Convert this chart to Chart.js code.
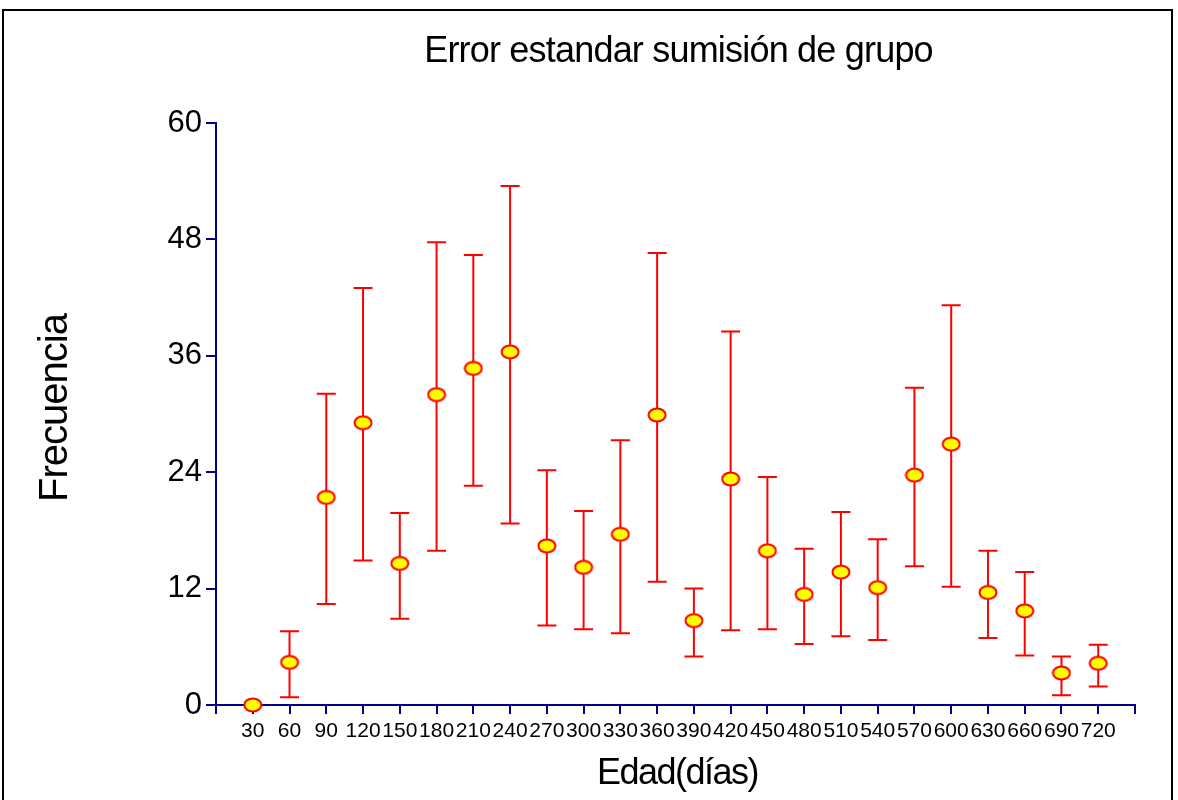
<!DOCTYPE html>
<html>
<head>
<meta charset="utf-8">
<script src="https://cdn.jsdelivr.net/npm/chart.js@4/dist/chart.umd.min.js"></script>
<style>
  html, body { margin: 0; padding: 0; background: #fff; }
  #wrap { width: 1178px; height: 800px; }
</style>
</head>
<body>
<div id="wrap"><canvas id="chart" width="1178" height="800"></canvas></div>
<script>
const categories = [30, 60, 90, 120, 150, 180, 210, 240, 270, 300, 330, 360,
                    390, 420, 450, 480, 510, 540, 570, 600, 630, 660, 690, 720];
const means = [0, 4.4, 21.4, 29.1, 14.6, 32.0, 34.7, 36.4, 16.4, 14.2, 17.6, 29.9,
               8.7, 23.3, 15.9, 11.4, 13.7, 12.1, 23.7, 26.9, 11.6, 9.7, 3.3, 4.3];
const upper = [0, 7.6, 32.1, 43.0, 19.8, 47.7, 46.4, 53.5, 24.2, 20.0, 27.3, 46.6,
               12.0, 38.5, 23.5, 16.1, 19.9, 17.1, 32.7, 41.2, 15.9, 13.7, 5.0, 6.2];
const lower = [0, 0.8, 10.4, 14.9, 8.9, 15.9, 22.6, 18.7, 8.2, 7.8, 7.4, 12.7,
               5.0, 7.7, 7.8, 6.3, 7.1, 6.7, 14.3, 12.2, 6.9, 5.1, 1.0, 1.9];
const yTicks = [0, 12, 24, 36, 48, 60];

const chartTitle = 'Error estandar sumisión de grupo';
const xTitle = 'Edad(días)';
const yTitle = 'Frecuencia';

const FONT = "'Liberation Sans', Arial, sans-serif";
const AXIS = '#00008b';
const RED = '#ff0000';

// yellow ellipse with red rim, used as the point marker
function ellipseMarker() {
  const c = document.createElement('canvas');
  c.width = 20;
  c.height = 16;
  const g = c.getContext('2d');
  g.beginPath();
  g.ellipse(10, 8, 8.5, 6.5, 0, 0, Math.PI * 2);
  g.fillStyle = '#ffff00';
  g.fill();
  g.lineWidth = 2;
  g.strokeStyle = RED;
  g.stroke();
  return c;
}

const errorBars = {
  id: 'errorBars',
  beforeDatasetsDraw(chart) {
    const { ctx, scales: { x, y } } = chart;
    ctx.save();
    ctx.strokeStyle = RED;
    ctx.lineWidth = 2;
    categories.forEach((_, i) => {
      if (upper[i] === lower[i]) return;
      const px = x.getPixelForValue(i + 1);
      const top = y.getPixelForValue(upper[i]);
      const bot = y.getPixelForValue(lower[i]);
      ctx.beginPath();
      ctx.moveTo(px, top);
      ctx.lineTo(px, bot);
      ctx.moveTo(px - 9.5, top);
      ctx.lineTo(px + 9.5, top);
      ctx.moveTo(px - 9.5, bot);
      ctx.lineTo(px + 9.5, bot);
      ctx.stroke();
    });
    ctx.restore();
  }
};

// frame, title and axis captions (tight letter spacing like the original plot)
const captions = {
  id: 'captions',
  afterDraw(chart) {
    const { ctx, chartArea } = chart;
    ctx.save();
    ctx.strokeStyle = '#000';
    ctx.lineWidth = 2;
    ctx.strokeRect(3, 10, 1169, 800);

    ctx.fillStyle = '#000';
    ctx.textAlign = 'center';
    ctx.textBaseline = 'alphabetic';
    const cx = (chartArea.left + chartArea.right) / 2;

    ctx.font = `36px ${FONT}`;
    ctx.letterSpacing = '-0.8px';
    ctx.fillText(chartTitle, cx + 3, 62);

    ctx.font = `36px ${FONT}`;
    ctx.letterSpacing = '-1.5px';
    ctx.fillText(xTitle, cx + 2, 784);

    ctx.translate(67, (chartArea.top + chartArea.bottom) / 2 - 6);
    ctx.rotate(-Math.PI / 2);
    ctx.font = `40px ${FONT}`;
    ctx.letterSpacing = '-1px';
    ctx.fillText(yTitle, 0, 0);
    ctx.restore();
  }
};

new Chart(document.getElementById('chart'), {
  type: 'scatter',
  data: {
    datasets: [{
      data: means.map((v, i) => ({ x: i + 1, y: v })),
      pointStyle: ellipseMarker(),
      pointRadius: 8,
      clip: false
    }]
  },
  options: {
    responsive: false,
    animation: false,
    layout: { padding: { top: 123, right: 43, bottom: 0, left: 0 } },
    plugins: {
      legend: { display: false },
      tooltip: { enabled: false },
      title: { display: false }
    },
    scales: {
      x: {
        type: 'linear',
        min: 0,
        max: categories.length + 1,
        afterBuildTicks: (s) => {
          s.ticks = Array.from({ length: categories.length + 2 }, (_, v) => ({ value: v }));
        },
        afterFit: (s) => { s.height = 95; },
        border: { color: AXIS, width: 2 },
        grid: { drawOnChartArea: false, tickColor: AXIS, tickLength: 9, lineWidth: 2 },
        ticks: {
          autoSkip: false,
          maxRotation: 0,
          padding: 5,
          color: '#000',
          font: { family: FONT, size: 21 },
          callback: (v) => categories[v - 1] ?? ''
        }
      },
      y: {
        min: 0,
        max: 60,
        afterBuildTicks: (s) => { s.ticks = yTicks.map((v) => ({ value: v })); },
        afterFit: (s) => { s.width = 216; },
        border: { color: AXIS, width: 2 },
        grid: { drawOnChartArea: false, tickColor: AXIS, tickLength: 10, lineWidth: 2 },
        ticks: {
          padding: 4,
          color: '#000',
          font: { family: FONT, size: 31 }
        }
      }
    }
  },
  plugins: [errorBars, captions]
});
</script>
</body>
</html>
